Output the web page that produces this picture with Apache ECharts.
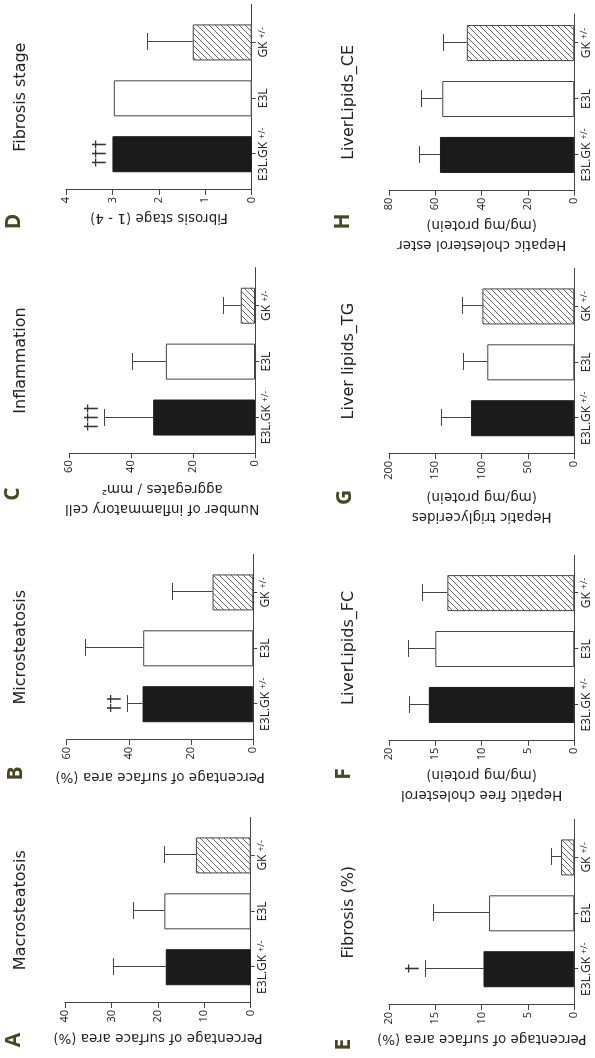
<!DOCTYPE html>
<html><head><meta charset="utf-8">
<script src="https://cdn.jsdelivr.net/npm/echarts@6/dist/echarts.min.js"></script>
<style>
html,body{margin:0;padding:0;width:595px;height:1058px;overflow:hidden;background:#fff}
#chart{position:absolute;left:0;top:0;width:1058px;height:595px;transform-origin:0 0;transform:translateY(1058px) rotate(-90deg);}
</style></head><body><div id="chart"></div>
<script>
// ---------- data ----------
const categories = ['E3L.GK', 'E3L', 'GK'];
const categorySup = ['+/-', '', '+/-'];
const panelLetters = ['A', 'B', 'C', 'D', 'E', 'F', 'G', 'H'];
const panelTitles = ['Macrosteatosis', 'Microsteatosis', 'Inflammation', 'Fibrosis stage',
  'Fibrosis (%)', 'LiverLipids_FC', 'Liver lipids_TG', 'LiverLipids_CE'];
const axisNames = [
  'Percentage of surface area (%)',
  'Percentage of surface area (%)',
  'Number of inflammatory cell\naggregates / mm\u00B2',
  'Fibrosis stage (1 - 4)',
  'Percentage of surface area (%)',
  'Hepatic free cholesterol\n(mg/mg protein)',
  'Hepatic triglycerides\n(mg/mg protein)',
  'Hepatic cholesterol ester\n(mg/mg protein)'
];
const axisMax = [40, 60, 60, 4, 20, 20, 200, 80];
const axisInterval = [10, 20, 20, 1, 5, 5, 50, 20];

const macroMean = [18.3, 18.6, 11.8], macroErr = [11.3, 6.7, 6.9];
const microMean = [35.6, 35.4, 13.1], microErr = [5.1, 18.7, 12.9];
const inflMean = [32.9, 28.8, 4.6], inflErr = [15.8, 10.8, 5.8];
const fibStageMean = [3.0, 2.97, 1.27], fibStageErr = [0, 0, 0.98];
const fibPctMean = [9.8, 9.2, 1.43], fibPctErr = [6.3, 6.1, 1.07];
const fcMean = [15.7, 15.0, 13.7], fcErr = [2.1, 2.9, 2.7];
const tgMean = [111.4, 93.9, 99.2], tgErr = [32.6, 25.9, 22.3];
const ceMean = [58.0, 57.0, 46.4], ceErr = [9.0, 9.2, 10.1];

const macroDaggers = ['', '', ''];
const microDaggers = ['\u2020\u2020', '', ''];
const inflDaggers = ['\u2020\u2020\u2020', '', ''];
const fibStageDaggers = ['\u2020\u2020\u2020', '', ''];
const fibPctDaggers = ['\u2020', '', ''];
const fcDaggers = ['', '', ''];
const tgDaggers = ['', '', ''];
const ceDaggers = ['', '', ''];

const means = [macroMean, microMean, inflMean, fibStageMean, fibPctMean, fcMean, tgMean, ceMean];
const errs = [macroErr, microErr, inflErr, fibStageErr, fibPctErr, fcErr, tgErr, ceErr];
const daggers = [macroDaggers, microDaggers, inflDaggers, fibStageDaggers, fibPctDaggers, fcDaggers, tgDaggers, ceDaggers];

// ---------- layout (landscape, rotated by CSS) ----------
const layout = [
  {left: 55,    top: 65,   height: 185.7, width: 185.6, xMax: 2.68, gap: 25, letter: [18, 14.5]},
  {left: 318,   top: 66.7, height: 186.6, width: 185.6, xMax: 2.68, gap: 27, letter: [284.5, 16]},
  {left: 604.7, top: 69.3, height: 185.7, width: 185.6, xMax: 2.68, gap: 25, letter: [564, 13.5]},
  {left: 868,   top: 66,   height: 185.7, width: 185.6, xMax: 2.68, gap: 18, letter: [836.5, 14.5]},
  {left: 53,    top: 389,  height: 185.3, width: 185.6, xMax: 2.68, gap: 23, letter: [13.5, 344]},
  {left: 317.3, top: 389,  height: 185.3, width: 185.6, xMax: 2.68, gap: 24, letter: [284, 344]},
  {left: 604,   top: 389,  height: 185.3, width: 185.6, xMax: 2.68, gap: 33, letter: [560.5, 345]},
  {left: 867.3, top: 389,  height: 185.3, width: 176.7, xMax: 2.52, gap: 21, letter: [836.5, 343.5]}
];
const titleY = [20.5, 20.5, 20.5, 20.5, 348.5, 348.5, 348.5, 348.5];
const FONT = '"Open Sans", "Noto Sans", sans-serif';
const WIDE = '"DejaVu Sans", sans-serif';
const AXC = '#444';

// hatch pattern
function makeHatch() {
  const s = 6, c = document.createElement('canvas');
  c.width = s; c.height = s;
  const ctx = c.getContext('2d');
  ctx.fillStyle = '#fff'; ctx.fillRect(0, 0, s, s);
  ctx.strokeStyle = '#555'; ctx.lineWidth = 0.9;
  ctx.beginPath();
  ctx.moveTo(-1, s + 1); ctx.lineTo(s + 1, -1);
  ctx.moveTo(-1, 1); ctx.lineTo(1, -1);
  ctx.moveTo(s - 1, s + 1); ctx.lineTo(s + 1, s - 1);
  ctx.stroke();
  return c;
}
const hatch = makeHatch();
const barStyles = [
  {color: '#1b1b1b', borderColor: '#1b1b1b', borderWidth: 1},
  {color: '#ffffff', borderColor: AXC, borderWidth: 1},
  {color: {image: hatch, repeat: 'repeat'}, borderColor: AXC, borderWidth: 1}
];

function makeErrRender(dag) {
  return function (params, api) {
    const x = api.value(0), m = api.value(1), e = api.value(2);
    const p0 = api.coord([x, m]);
    const p1 = api.coord([x, m + e]);
    const cx = Math.round(p0[0]) + 0.5;
    const ty = Math.round(p1[1]) + 0.5;
    const st = {stroke: AXC, lineWidth: 1};
    const ch = [];
    if (e > 0) {
      ch.push({type: 'line', shape: {x1: cx, y1: p0[1], x2: cx, y2: ty}, style: st});
      ch.push({type: 'line', shape: {x1: cx - 8.5, y1: ty, x2: cx + 8.5, y2: ty}, style: st});
    }
    const d = dag[params.dataIndex];
    if (d) {
      ch.push({type: 'text', x: cx, y: ty - 3, style: {text: d, align: 'center', verticalAlign: 'bottom',
        font: '18px "DejaVu Sans"', fill: '#333'}});
    }
    return {type: 'group', children: ch};
  };
}

const grids = [], xAxes = [], yAxes = [], series = [], graphics = [];
for (let i = 0; i < 8; i++) {
  const L = layout[i];
  grids.push({left: L.left, top: L.top, width: L.width, height: L.height, containLabel: false});
  xAxes.push({
    type: 'value', gridIndex: i, min: -0.64, max: L.xMax,
    splitLine: {show: false},
    axisLine: {show: true, onZero: false, lineStyle: {color: AXC, width: 1}},
    axisTick: {show: true, customValues: [0, 1, 2], length: 4, lineStyle: {color: AXC}},
    axisLabel: {
      show: true, customValues: [0, 1, 2], margin: 6,
      formatter: function (v) {
        const k = Math.round(v);
        return '{m|' + categories[k] + '}' + (categorySup[k] ? '{s|' + categorySup[k] + '}' : '');
      },
      rich: {
        m: {fontSize: 12, fontFamily: FONT, color: '#222'},
        s: {fontSize: 9, fontFamily: FONT, color: '#222', verticalAlign: 'top', padding: [0, 0, 0, 3]}
      }
    }
  });
  yAxes.push({
    type: 'value', gridIndex: i, min: 0, max: axisMax[i], interval: axisInterval[i],
    splitLine: {show: false},
    axisLine: {show: true, onZero: false, lineStyle: {color: AXC, width: 1}},
    axisTick: {show: true, length: 5, lineStyle: {color: AXC}},
    axisLabel: {fontSize: 11, fontFamily: FONT, color: '#222', margin: 7},
    name: axisNames[i], nameLocation: 'middle', nameRotate: 90, nameGap: L.gap,
    nameTextStyle: {fontSize: 13.5, fontFamily: WIDE, color: '#222', lineHeight: 20}
  });
  series.push({
    type: 'bar', xAxisIndex: i, yAxisIndex: i, barWidth: 36, silent: true,
    data: means[i].map((v, j) => ({value: [j, v], itemStyle: barStyles[j]}))
  });
  series.push({
    type: 'custom', xAxisIndex: i, yAxisIndex: i, silent: true, z: 5,
    renderItem: makeErrRender(daggers[i]),
    data: means[i].map((v, j) => [j, v, errs[i][j]])
  });
  graphics.push({type: 'text', x: L.left + L.width / 2, y: titleY[i], silent: true,
    style: {text: panelTitles[i], align: 'center', verticalAlign: 'middle',
      font: '16px ' + WIDE, fill: '#222'}});
  graphics.push({type: 'text', x: L.letter[0], y: L.letter[1], silent: true,
    style: {text: panelLetters[i], align: 'center', verticalAlign: 'middle',
      font: 'bold 21px ' + FONT, fill: '#4b4622'}});
}

const chart = echarts.init(document.getElementById('chart'), null, {renderer: 'canvas'});
chart.setOption({
  animation: false,
  backgroundColor: '#fff',
  grid: grids, xAxis: xAxes, yAxis: yAxes, series: series,
  graphic: graphics
});
</script></body></html>
